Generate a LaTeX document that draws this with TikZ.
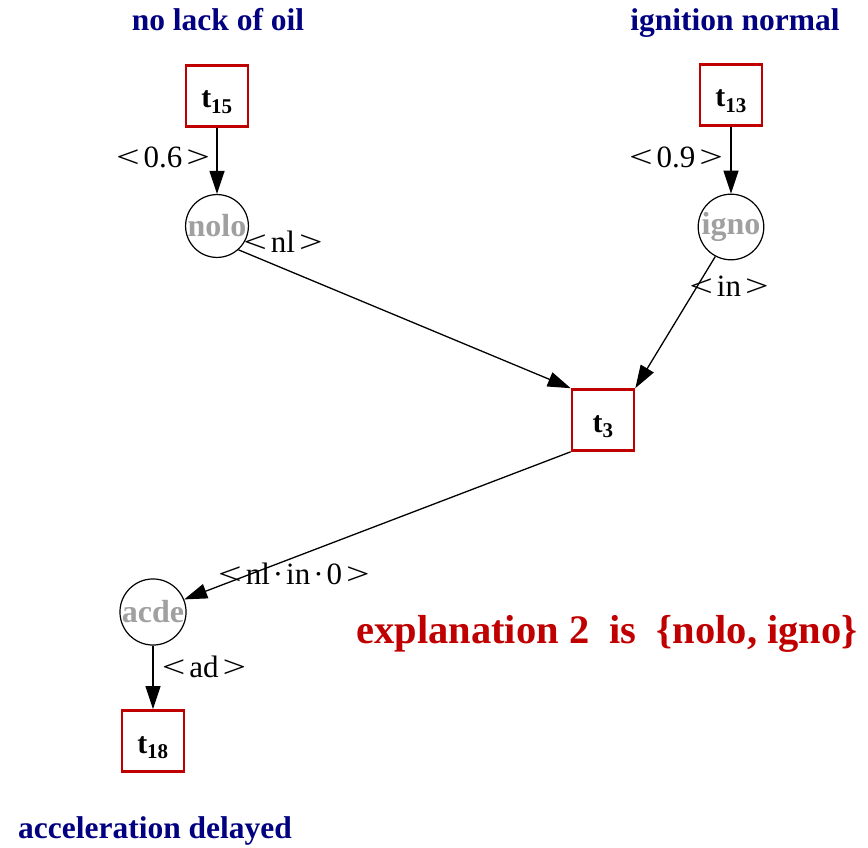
\documentclass[tikz,border=0pt]{standalone}
\usepackage{fontspec}
\usepackage{graphicx}
\setmainfont{Liberation Serif}
\usetikzlibrary{arrows.meta}
\definecolor{navyc}{RGB}{0,0,128}
\definecolor{redc}{RGB}{192,0,0}
\definecolor{grayc}{RGB}{160,160,160}
\tikzset{
  trans/.style={draw=redc, line width=2.6pt, minimum width=62pt, minimum height=61pt, inner sep=0pt,
    font=\fontsize{30}{34}\selectfont\bfseries},
  place/.style={draw=black, line width=1.2pt, circle, minimum size=61pt, inner sep=0pt,
    font=\fontsize{32}{36}\selectfont\bfseries, text=grayc},
  title/.style={font=\fontsize{31.5}{36}\selectfont\bfseries, text=navyc, inner sep=0pt, anchor=base},
  elabel/.style={font=\fontsize{31}{35}\selectfont, inner sep=0pt},
  arc/.style={line width=1.3pt, -{Triangle[length=23pt,width=15pt]}},
}
\newcommand{\tsub}[1]{\raisebox{-12pt}[0pt][0pt]{t\textsubscript{\fontsize{21}{24}\selectfont #1}}}
\newcommand{\lt}{\scalebox{1.35}[1]{<}}
\newcommand{\gt}{\scalebox{1.35}[1]{>}}
\newcommand{\ang}[1]{\lt\hspace{4pt}#1\hspace{4pt}\gt}
\newcommand{\cd}{\hspace{3pt}·\hspace{3pt}}
\begin{document}
\begin{tikzpicture}[x=1pt,y=-1pt]
\useasboundingbox (0,0) rectangle (868,848);
\node[trans] (t15) at (217,96) {\tsub{15}};
\node[trans] (t13) at (731,95) {\tsub{13}};
\node[trans] (t3) at (603,420) {\tsub{3}};
\node[trans] (t18) at (153,741) {\tsub{18}};
\node[place] (nolo) at (217,226) {nolo};
\node[place] (igno) at (731,227) {igno};
\node[place] (acde) at (153,612) {acde};

\node[title] (tnolo) at (218,31) {no lack of oil};
\node[title] (tigno) at (735,31) {ignition normal};
\node[title] (tacde) at (155,838) {acceleration delayed};
\node[font=\fontsize{40.5}{46}\selectfont\bfseries, text=redc, inner sep=0pt, anchor=base] (expl) at (607,643)
  {explanation 2\ \ is\ \ \{nolo, igno\}};

\draw[arc] (t15) -- (nolo);
\draw[arc] (t13) -- (igno);
\draw[arc] (nolo.-48) -- (t3.north west);
\draw[arc] (igno.-118) -- (t3.north east);
\draw[arc] (t3.south west) -- (acde.22);
\draw[arc] (acde) -- (t18);

\node[elabel] (l1) at (163,157) {\ang{0.6}};
\node[elabel] (l2) at (283,242) {\ang{nl}};
\node[elabel] (l3) at (676,157) {\ang{0.9}};
\node[elabel] (l4) at (729,286) {\ang{in}};
\node[elabel] (l5) at (294,574) {\ang{nl\cd in\cd 0}};
\node[elabel] (l6) at (204,667) {\ang{ad}};
\end{tikzpicture}
\end{document}
